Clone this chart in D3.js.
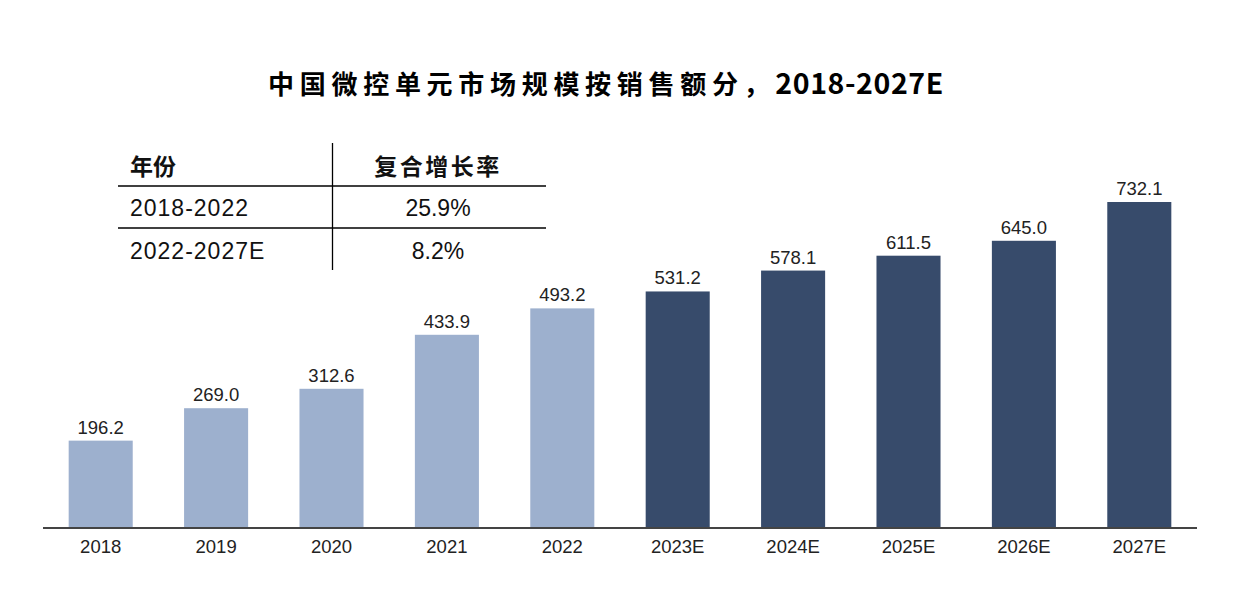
<!DOCTYPE html>
<html><head><meta charset="utf-8">
<script src="https://cdn.jsdelivr.net/npm/d3@7"></script>
<style>body{margin:0;background:#fff}svg{display:block}</style>
</head><body>
<svg id="c" width="1251" height="599"></svg>
<script>
const categories = ["2018","2019","2020","2021","2022","2023E","2024E","2025E","2026E","2027E"];
const values = [196.2,269.0,312.6,433.9,493.2,531.2,578.1,611.5,645.0,732.1];
const isForecast = [false,false,false,false,false,true,true,true,true,true];
const tableHeader = ["年份","复合增长率"];
const tablePeriods = ["2018-2022","2022-2027E"];
const tableCagr = ["25.9%","8.2%"];
const titleMain = "中国微控单元市场规模按销售额分，";
const titleYears = "2018-2027E";

const svg = d3.select("#c");
const x = d3.scaleBand().domain(categories).range([43,1197]).paddingInner(0.445).paddingOuter(0.2225);
const y = d3.scaleLinear().domain([0,732.1]).range([528,202]);
const latin = "'Liberation Sans', Arial, sans-serif";
const cjk = "'Noto Sans CJK SC', sans-serif";

const tt = svg.append("text").attr("x",606).attr("y",94).attr("text-anchor","middle")
  .attr("font-family",cjk).attr("font-weight","bold").attr("fill","#000");
tt.append("tspan").attr("font-size",26).attr("letter-spacing","5.7px").text(titleMain);
tt.append("tspan").attr("font-size",28.5).attr("letter-spacing","0.6px").text(titleYears);

svg.selectAll("rect.bar").data(values).join("rect").attr("class","bar")
  .attr("x",(d,i)=>x(categories[i])).attr("width",x.bandwidth())
  .attr("y",d=>y(d)).attr("height",d=>y(0)-y(d))
  .attr("fill",(d,i)=>isForecast[i]?"#374b6b":"#9db0ce");

svg.selectAll("text.val").data(values).join("text").attr("class","val")
  .attr("x",(d,i)=>x(categories[i])+x.bandwidth()/2).attr("y",d=>y(d)-7)
  .attr("text-anchor","middle").attr("font-family",latin).attr("font-size",18.5)
  .attr("fill","#222").text(d=>d.toFixed(1));

const ax = svg.append("g").attr("transform","translate(0,528)")
  .call(d3.axisBottom(x).tickSize(0).tickPadding(12));
ax.select(".domain").attr("stroke","#444").attr("stroke-width",2).attr("d","M43,0H1197");
ax.selectAll("text").attr("font-family",latin).attr("font-size",18.5).attr("fill","#222");

// table
const t = svg.append("g");
t.append("line").attr("x1",332.5).attr("x2",332.5).attr("y1",143).attr("y2",270).attr("stroke","#000").attr("stroke-width",1.3);
[186,228].forEach(yy=>t.append("line").attr("x1",118).attr("x2",546).attr("y1",yy).attr("y2",yy).attr("stroke","#000").attr("stroke-width",1.3));
t.append("text").attr("x",130).attr("y",175).attr("font-family",cjk).attr("font-weight","bold").attr("font-size",23).attr("fill","#111").text(tableHeader[0]);
t.append("text").attr("x",438).attr("y",175).attr("text-anchor","middle").attr("font-family",cjk).attr("font-weight","bold").attr("font-size",23).attr("letter-spacing","2.5px").attr("fill","#111").text(tableHeader[1]);
const rowY = [216,259];
tablePeriods.forEach((p,i)=>{
  t.append("text").attr("x",130).attr("y",rowY[i]).attr("font-family",latin).attr("font-size",23).attr("letter-spacing","1px").attr("fill","#111").text(p);
  t.append("text").attr("x",438).attr("y",rowY[i]).attr("text-anchor","middle").attr("font-family",latin).attr("font-size",23).attr("fill","#111").text(tableCagr[i]);
});
</script>
</body></html>
